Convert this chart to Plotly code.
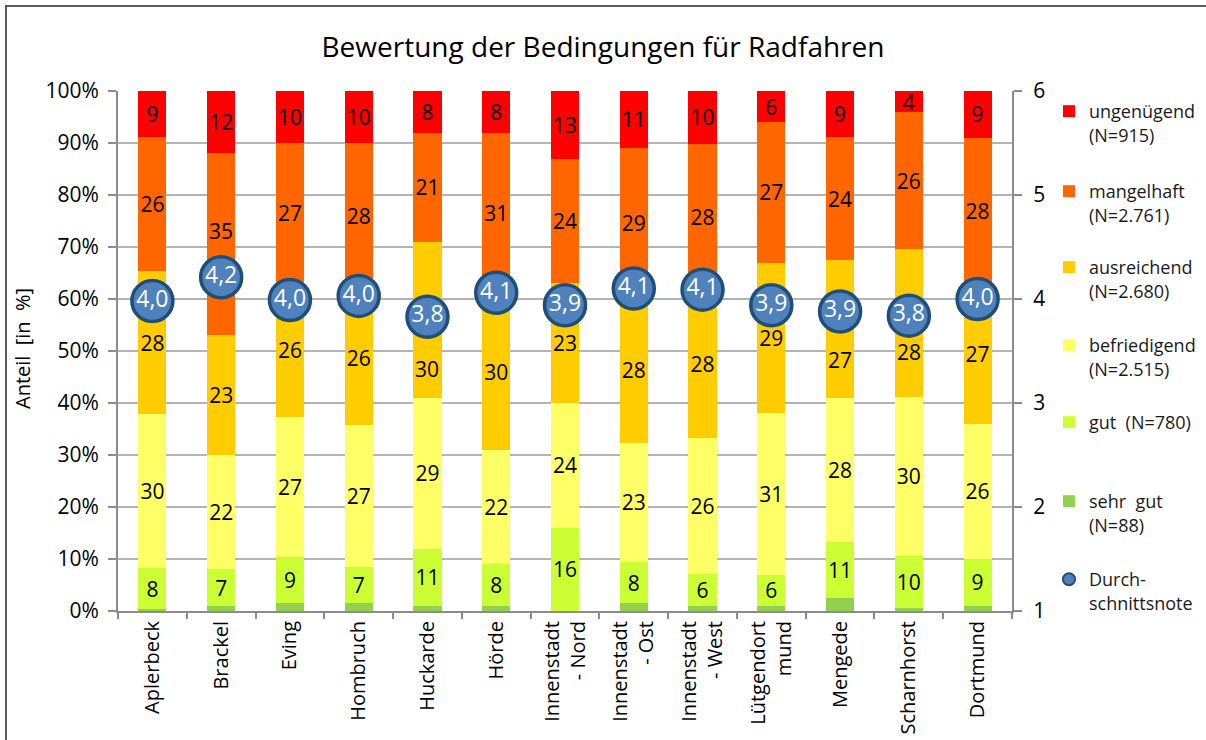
import plotly.graph_objects as go

categories = ["Aplerbeck", "Brackel", "Eving", "Hombruch", "Huckarde", "Hörde",
              "Innenstadt<br>- Nord", "Innenstadt<br>- Ost", "Innenstadt<br>- West",
              "Lütgendort<br>mund", "Mengede", "Scharnhorst", "Dortmund"]

sehr_gut = [0.3, 1.0, 1.5, 1.5, 1.0, 1.0, 0.0, 1.5, 1.0, 1.0, 2.5, 0.5, 1.0]
gut = [8, 7, 9, 7, 11, 8, 16, 8, 6, 6, 11, 10, 9]
befriedigend = [30, 22, 27, 27, 29, 22, 24, 23, 26, 31, 28, 30, 26]
ausreichend = [28, 23, 26, 26, 30, 30, 23, 28, 28, 29, 27, 28, 27]
mangelhaft = [26, 35, 27, 28, 21, 31, 24, 29, 28, 27, 24, 26, 28]
ungenuegend = [9, 12, 10, 10, 8, 8, 13, 11, 10, 6, 9, 4, 9]
durchschnitt = [3.98, 4.21, 3.99, 4.03, 3.83, 4.06, 3.94, 4.10, 4.09, 3.94, 3.88, 3.84, 4.00]

series = [
    ("sehr  gut<br>(N=88)", sehr_gut, "#92D050", False),
    ("gut  (N=780)", gut, "#CCFF33", True),
    ("befriedigend<br>(N=2.515)", befriedigend, "#FFFF66", True),
    ("ausreichend<br>(N=2.680)", ausreichend, "#FFCC00", True),
    ("mangelhaft<br>(N=2.761)", mangelhaft, "#FF6600", True),
    ("ungenügend<br>(N=915)", ungenuegend, "#FF0000", True),
]
# legend slot (top to bottom) for each series
legend_slots = {0: 6, 1: 5, 2: 4, 3: 3, 4: 2, 5: 1}

# data labels that were dragged (in the original) to sit below the average marker:
# (series index, category index) -> shift in percentage points
label_shift = {(3, 4): -9.5, (3, 10): -6.0, (3, 11): -5.5, (4, 1): 2.5}

FONT = "Open Sans"
L, R, T, B = 118, 194, 91, 129
W, H = 1206, 740
pw, ph = W - L - R, H - T - B

def px_x(px):
    return (px - L) / pw

def px_y(py):
    return (H - B - py) / ph

fig = go.Figure()
totals = [sum(s[1][j] for s in series) for j in range(len(categories))]
cum = [0.0] * len(categories)
annotations = []
for i, (name, vals, color, show_text) in enumerate(series):
    slot = legend_slots[i]
    texts = None
    if show_text:
        texts = []
        for j, v in enumerate(vals):
            if (i, j) in label_shift:
                texts.append("")
                centre = (cum[j] + v / 2) / totals[j] * 100 + label_shift[(i, j)]
                annotations.append(dict(x=categories[j], y=centre, xref="x", yref="y",
                                        text=str(v), showarrow=False,
                                        font=dict(family=FONT, size=21, color="black")))
            else:
                texts.append(str(v))
    for j, v in enumerate(vals):
        cum[j] += v
    fig.add_trace(go.Bar(
        x=categories, y=vals, name=name,
        marker=dict(color=color, line=dict(width=0)),
        text=texts,
        textposition="inside" if show_text else "none",
        insidetextanchor="middle", textangle=0, constraintext="none",
        textfont=dict(family=FONT, size=21, color="black"),
        legend=f"legend{slot + 1}",
        hoverinfo="x+y+name",
    ))

fig.add_trace(go.Scatter(
    x=categories, y=durchschnitt, yaxis="y2", name="Durch-<br>schnittsnote",
    mode="markers+text",
    text=[f"{v:.1f}".replace(".", ",") for v in durchschnitt],
    textposition="middle center",
    textfont=dict(family=FONT, size=23, color="white"),
    marker=dict(size=41, color="#4F81BD", line=dict(width=3.5, color="#1F4E79")),
    cliponaxis=False,
    legend="legend8",
))

legend_text_y = [112, 192, 268, 346, 423, 502, 580]
legend_common = dict(font=dict(family=FONT, size=18, color="#1a1a1a"),
                     bgcolor="rgba(0,0,0,0)", valign="top",
                     xref="container", yref="container",
                     xanchor="left", yanchor="top", itemwidth=30)
legends = {"showlegend": True}
for k, py in enumerate(legend_text_y, start=2):
    d = dict(legend_common, x=1049 / W, y=1 - (py - 19) / H)
    if k == 8:
        d["itemsizing"] = "constant"
    legends[f"legend{k}"] = d

annotations.append(dict(text="Anteil\u00a0\u00a0[in\u00a0\u00a0%]", textangle=-90,
                        x=px_x(22), y=px_y(349), xref="paper", yref="paper",
                        xanchor="center", yanchor="middle", showarrow=False,
                        font=dict(family=FONT, size=20, color="black")))

grid_col = "#B4B4B4"
axis_col = "#8C8C8C"

fig.update_layout(
    width=W, height=H,
    margin=dict(l=L, r=R, t=T, b=B, autoexpand=False),
    paper_bgcolor="white", plot_bgcolor="white",
    barmode="stack", barnorm="percent", bargap=0.59,
    font=dict(family=FONT, size=20, color="black"),
    title=dict(text="Bewertung der Bedingungen für Radfahren",
               x=0.5, xref="container", xanchor="center",
               y=1 - 47 / H, yref="container", yanchor="middle",
               font=dict(family=FONT, size=28, color="black")),
    xaxis=dict(type="category", range=[-0.5, len(categories) - 0.5],
               tickangle=-90, tickson="boundaries",
               ticks="outside", ticklen=6, tickcolor=axis_col, tickwidth=2,
               showline=True, linecolor=axis_col, linewidth=2, showgrid=False,
               tickfont=dict(family=FONT, size=20, color="black")),
    yaxis=dict(range=[0, 100], dtick=10, ticksuffix="%", showgrid=True,
               gridcolor=grid_col, gridwidth=1.5, zeroline=False,
               showline=True, linecolor=axis_col, linewidth=2,
               ticks="outside", ticklen=8, tickcolor=axis_col, tickwidth=2,
               ticklabelstandoff=5,
               tickfont=dict(family=FONT, size=21, color="black")),
    yaxis2=dict(range=[1, 6], dtick=1, overlaying="y", side="right",
                showgrid=False, zeroline=False,
                showline=True, linecolor=axis_col, linewidth=2,
                ticks="outside", ticklen=8, tickcolor=axis_col, tickwidth=2,
                ticklabelstandoff=7,
                tickfont=dict(family=FONT, size=21, color="black")),
    annotations=annotations,
    shapes=[dict(type="rect", xref="paper", yref="paper",
                 x0=px_x(6), x1=px_x(W + 10), y0=px_y(H + 10), y1=px_y(6),
                 line=dict(color="#5A5A5A", width=2), fillcolor="rgba(0,0,0,0)",
                 layer="below")],
    **legends,
)

fig.write_html("out.html", config={"displayModeBar": False},
               post_script="document.body.style.margin='0px';document.body.style.overflow='hidden';")
